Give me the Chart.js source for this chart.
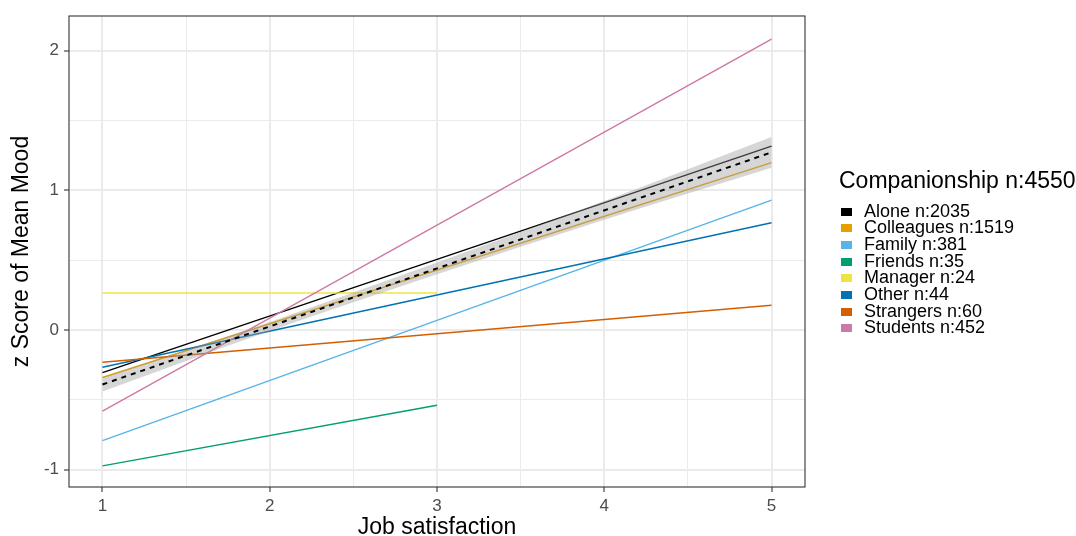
<!DOCTYPE html>
<html>
<head>
<meta charset="utf-8">
<script src="https://cdn.jsdelivr.net/npm/chart.js@4"></script>
<style>
  body { margin: 0; background: #fff; font-family: "Liberation Sans", Arial, sans-serif; }
  #wrap { position: relative; width: 1076px; height: 536px; }
  #legend { position: absolute; left: 839px; top: 167px; color: #000; }
  #legend .title { font-size: 23px; line-height: 26px; height: 26px; margin-bottom: 9.6px; white-space: nowrap; }
  #legend .item { font-size: 18px; line-height: 16.7px; height: 16.7px; white-space: nowrap; }
  #legend .key { display: inline-block; width: 11px; height: 8px; margin: 0 12px 0 2px; vertical-align: 1px; }
</style>
</head>
<body>
<div id="wrap">
  <canvas id="myChart" width="1076" height="536"></canvas>
  <div id="legend"></div>
</div>
<script>
// Data
let groups = ['Alone', 'Colleagues', 'Family', 'Friends', 'Manager', 'Other', 'Strangers', 'Students'];
let counts = [2035, 1519, 381, 35, 24, 44, 60, 452];
let colors = ['#000000', '#E69F00', '#56B4E9', '#009E73', '#F0E442', '#0072B2', '#D55E00', '#CC79A7'];
// start and end of each fitted line (x = job satisfaction)
let xStart = [1, 1, 1, 1, 1, 1, 1, 1];
let xEnd = [5, 5, 5, 3, 3, 5, 5, 5];
let yStart = [-0.305, -0.34, -0.792, -0.973, 0.265, -0.267, -0.231, -0.58];
let yEnd = [1.317, 1.198, 0.93, -0.539, 0.265, 0.768, 0.177, 2.083];

// overall fit with its confidence band
let meanX = [1, 5];
let meanY = [-0.39, 1.272];
let bandX = [1, 2, 3, 4, 5];
let bandUpper = [-0.34, 0.058, 0.483, 0.923, 1.382];
let bandLower = [-0.44, -0.007, 0.399, 0.79, 1.162];

let xBreaks = [1, 2, 3, 4, 5];
let xMinor = [1.5, 2.5, 3.5, 4.5];
let yBreaks = [-1, 0, 1, 2];
let yMinor = [-0.5, 0.5, 1.5];

let total = 4550;

let datasets = [];
datasets.push({
    data: meanX.map((x, i) => ({x: x, y: meanY[i]})),
    borderColor: '#000', borderWidth: 2, borderDash: [5, 5], fill: false
});
datasets.push({
    data: bandX.map((x, i) => ({x: x, y: bandUpper[i]})),
    borderWidth: 0, borderColor: 'rgba(0,0,0,0)', fill: false, cubicInterpolationMode: 'monotone'
});
datasets.push({
    data: bandX.map((x, i) => ({x: x, y: bandLower[i]})),
    borderWidth: 0, borderColor: 'rgba(0,0,0,0)', cubicInterpolationMode: 'monotone',
    fill: '-1', backgroundColor: 'rgba(153,153,153,0.4)'
});
// ggplot draws the first group first, chart.js draws index 0 last
for (let i = groups.length - 1; i >= 0; i--) {
    datasets.push({
        data: [{x: xStart[i], y: yStart[i]}, {x: xEnd[i], y: yEnd[i]}],
        borderColor: colors[i], borderWidth: 1.4, fill: false
    });
}

function isMajor(v, majors) {
    return majors.some(m => Math.abs(m - v) < 1e-9);
}

let panelBorder = {
    id: 'panelBorder',
    afterDraw(chart) {
        let a = chart.chartArea;
        let c = chart.ctx;
        c.save();
        c.strokeStyle = '#333333';
        c.lineWidth = 1.1;
        c.strokeRect(a.left, a.top, a.right - a.left, a.bottom - a.top);
        c.restore();
    }
};

let ctx = document.getElementById('myChart');
let myChart = new Chart(ctx, {
    type: 'line',
    data: { datasets: datasets },
    options: {
        responsive: false,
        animation: false,
        devicePixelRatio: 1,
        elements: { point: { radius: 0 }, line: { tension: 0 } },
        layout: { padding: { top: 16, right: 271, left: 0, bottom: 0 } },
        plugins: { legend: { display: false }, tooltip: { enabled: false } },
        scales: {
            x: {
                type: 'linear', min: 0.8, max: 5.2,
                afterBuildTicks: s => { s.ticks = xBreaks.concat(xMinor).sort((a, b) => a - b).map(v => ({value: v})); },
                afterFit: s => { s.height = 49; },
                border: { display: false },
                grid: {
                    color: '#EBEBEB',
                    lineWidth: c => isMajor(c.tick.value, xBreaks) ? 2 : 1,
                    tickLength: 5,
                    tickWidth: 1.1,
                    tickColor: c => isMajor(c.tick.value, xBreaks) ? '#333333' : 'rgba(0,0,0,0)'
                },
                ticks: {
                    autoSkip: false, maxRotation: 0, padding: 4,
                    color: '#4D4D4D',
                    font: { family: 'Liberation Sans', size: 17 },
                    callback: v => isMajor(v, xBreaks) ? String(v) : ''
                },
                title: {
                    display: true, text: 'Job satisfaction', color: '#000',
                    font: { family: 'Liberation Sans', size: 23 },
                    padding: { top: 0, bottom: -5 }
                }
            },
            y: {
                type: 'linear', min: -1.124, max: 2.248,
                afterBuildTicks: s => { s.ticks = yBreaks.concat(yMinor).sort((a, b) => a - b).map(v => ({value: v})); },
                afterFit: s => { s.width = 69; },
                border: { display: false },
                grid: {
                    color: '#EBEBEB',
                    lineWidth: c => isMajor(c.tick.value, yBreaks) ? 2 : 1,
                    tickLength: 5,
                    tickWidth: 1.1,
                    tickColor: c => isMajor(c.tick.value, yBreaks) ? '#333333' : 'rgba(0,0,0,0)'
                },
                ticks: {
                    autoSkip: false, padding: 5,
                    color: '#4D4D4D',
                    font: { family: 'Liberation Sans', size: 17 },
                    callback: v => isMajor(v, yBreaks) ? String(v) : ''
                },
                title: {
                    display: true, text: 'z Score of Mean Mood', color: '#000',
                    font: { family: 'Liberation Sans', size: 23 },
                    padding: { top: 8, bottom: 0 }
                }
            }
        }
    },
    plugins: [panelBorder]
});

// Legend
let legend = document.getElementById('legend');
let html = '<div class="title">Companionship n:' + total + '</div>';
groups.forEach((g, i) => {
    html += '<div class="item"><span class="key" style="background:' + colors[i] + '"></span>' + g + ' n:' + counts[i] + '</div>';
});
legend.innerHTML = html;
</script>
</body>
</html>
